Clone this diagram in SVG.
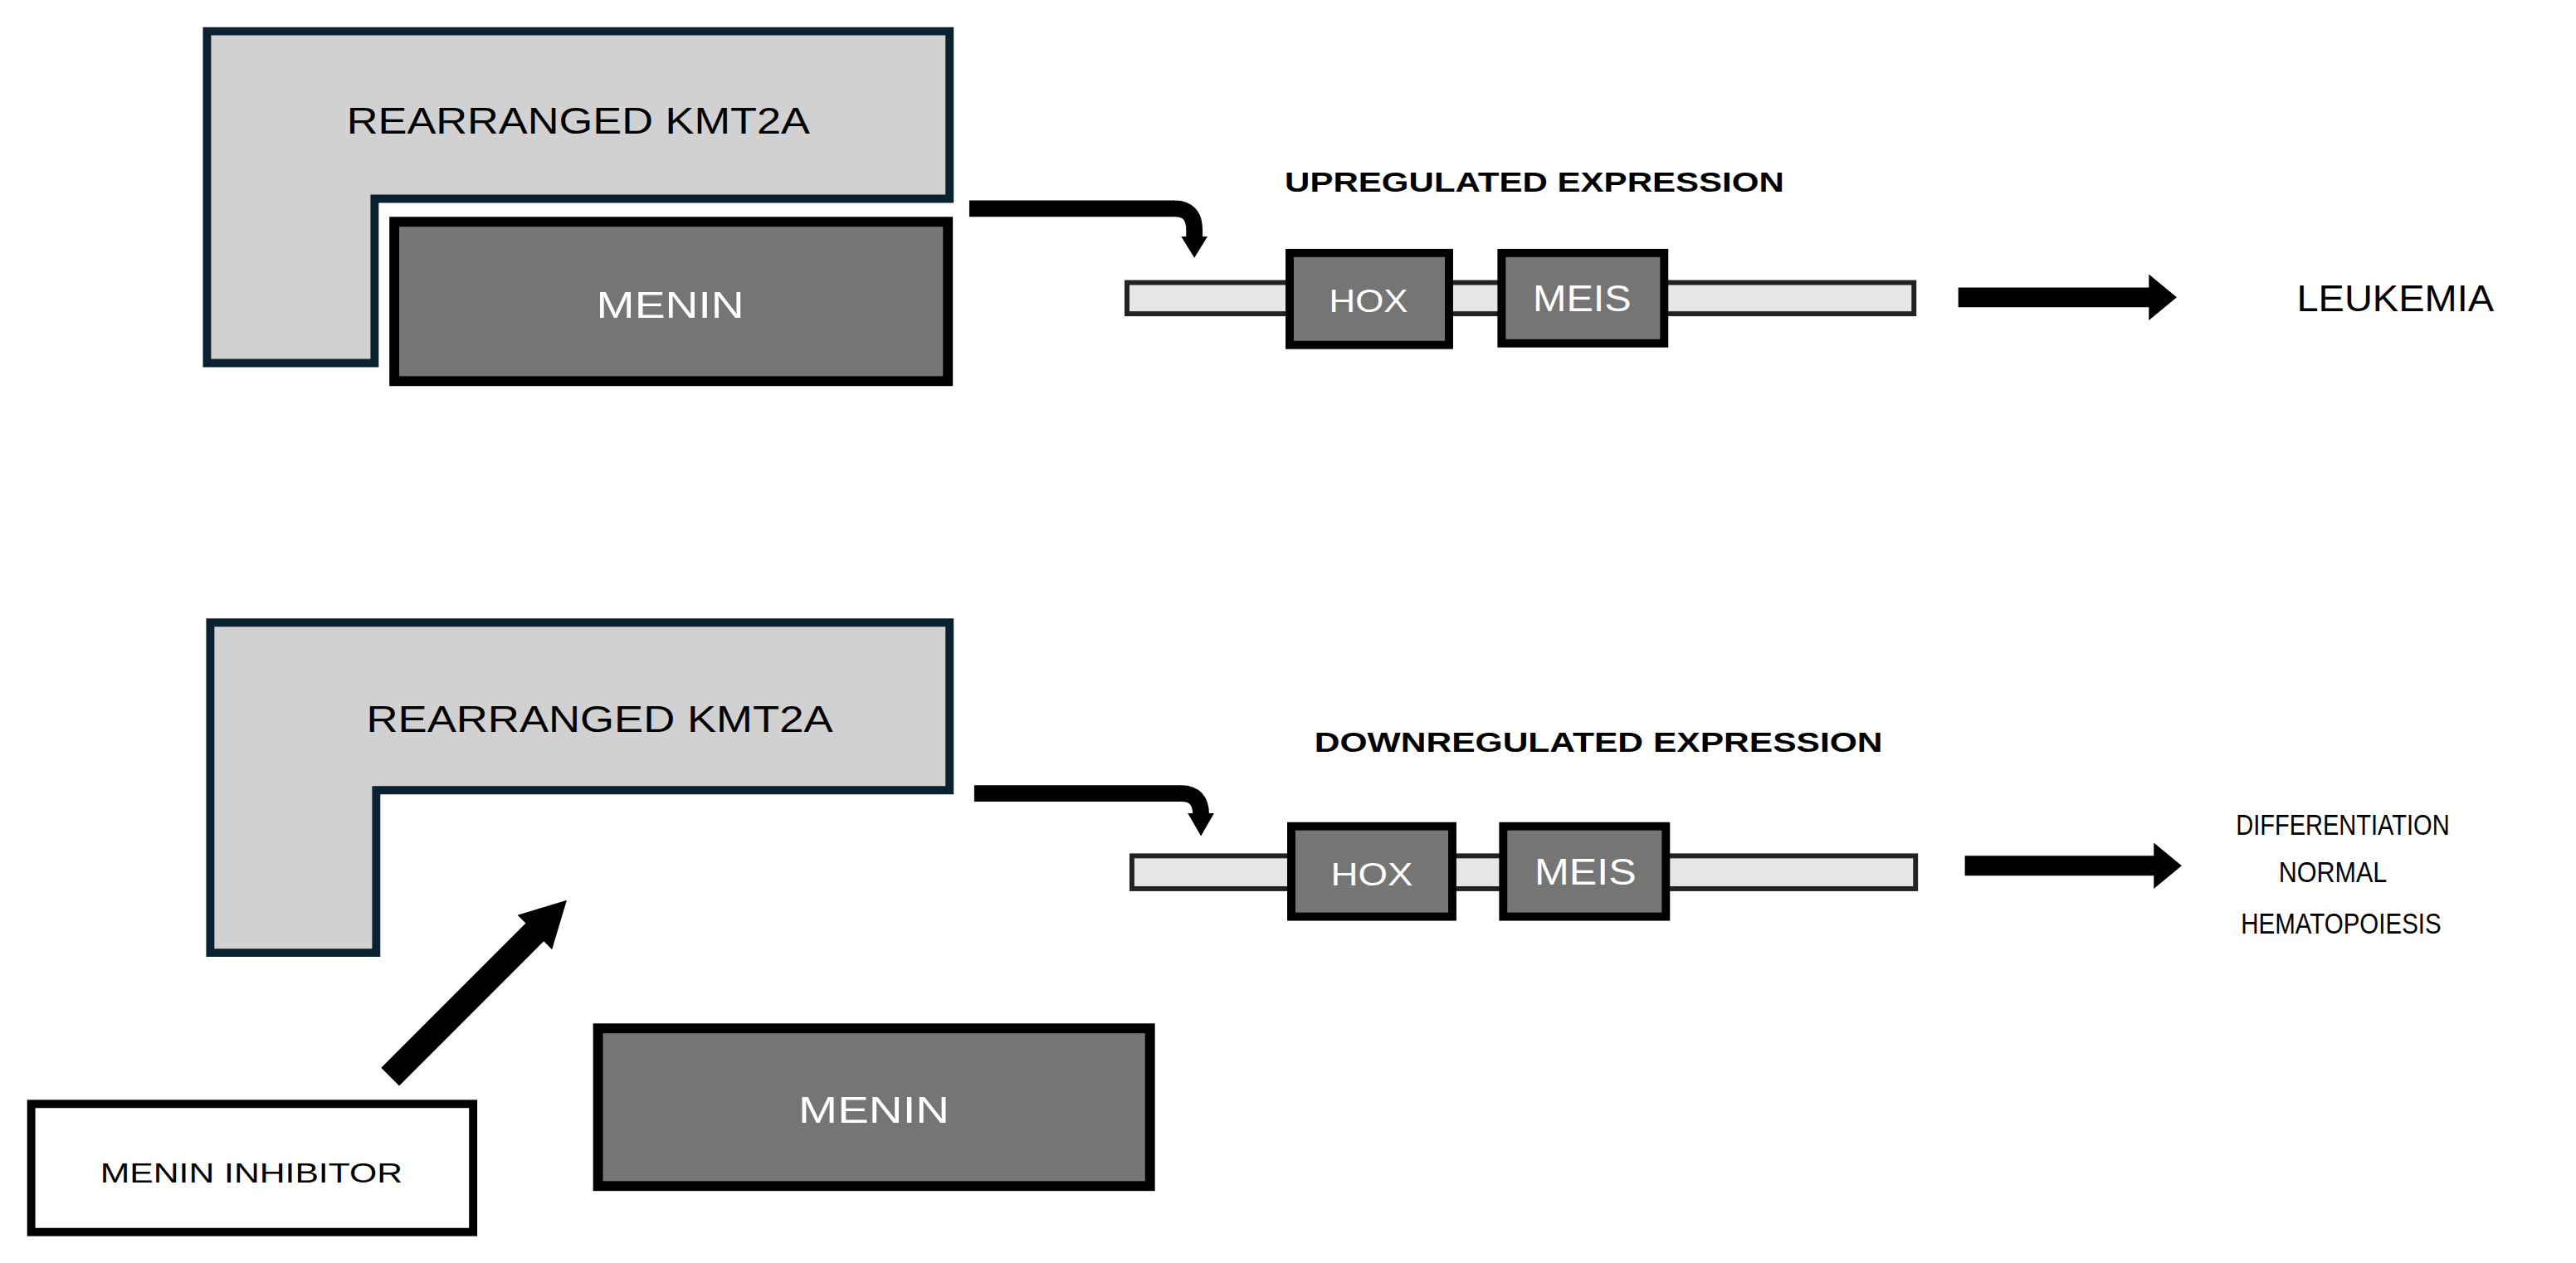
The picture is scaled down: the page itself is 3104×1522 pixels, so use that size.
<svg xmlns="http://www.w3.org/2000/svg" width="3104" height="1522" viewBox="0 0 3104 1522">
<style>
.kmt{fill:#d1d1d1;stroke:#0a2230;stroke-width:5}
.men{fill:#757575;stroke:#000;stroke-width:6}
.gene{fill:#757575;stroke:#000;stroke-width:5}
.bar{fill:#e6e6e6;stroke:#222;stroke-width:3}
.t{font-family:"Liberation Sans",Arial,sans-serif;text-anchor:middle;dominant-baseline:central}
.w{fill:#fff}
.b{font-weight:bold}
.arr{fill:#000;stroke:none}
</style>
<defs>
<marker id="ah" markerWidth="3" markerHeight="3" refX="1.5" refY="1.5" orient="auto" markerUnits="strokeWidth"><path d="M0,0 L1.5,1.5 L0,3 Z" fill="#000"/></marker>
</defs>
<rect width="3104" height="1522" fill="#fff"/>
<g transform="scale(1.9796)">
<g id="kmt2a-top"><path class="kmt" d="M126,19 H578 V121 H228 V221 H126 Z"/><text class="t" x="352" y="74" font-size="22" textLength="282" lengthAdjust="spacingAndGlyphs">REARRANGED KMT2A</text></g>
<g id="menin-top"><rect class="men" x="240" y="135" width="337" height="97"/><text class="t w" x="408" y="186" font-size="22" textLength="90" lengthAdjust="spacingAndGlyphs">MENIN</text></g>
<g id="gene-top"><rect class="bar" x="686" y="172" width="479" height="19"/>
<rect class="gene" x="785" y="154" width="97" height="56"/><text class="t w" x="833" y="183" font-size="20" textLength="48" lengthAdjust="spacingAndGlyphs">HOX</text>
<rect class="gene" x="914" y="154" width="99" height="55"/><text class="t w" x="963" y="182" font-size="22" textLength="60" lengthAdjust="spacingAndGlyphs">MEIS</text></g>
<text id="up-label" class="t b" x="934" y="111" font-size="17" textLength="304" lengthAdjust="spacingAndGlyphs">UPREGULATED EXPRESSION</text>
<g id="leukemia"><text class="t" x="1458" y="182" font-size="22" textLength="120" lengthAdjust="spacingAndGlyphs">LEUKEMIA</text></g>
<g id="kmt2a-bottom"><path class="kmt" d="M128,379 H578 V481 H229 V580 H128 Z"/><text class="t" x="365" y="438" font-size="22" textLength="284" lengthAdjust="spacingAndGlyphs">REARRANGED KMT2A</text></g>
<g id="menin-bottom"><rect class="men" x="364" y="626" width="336" height="96"/><text class="t w" x="532" y="676" font-size="22" textLength="92" lengthAdjust="spacingAndGlyphs">MENIN</text></g>
<g id="inhibitor"><rect x="19" y="672" width="269" height="78" fill="#fff" stroke="#000" stroke-width="5"/><text class="t" x="153" y="714" font-size="17" textLength="184" lengthAdjust="spacingAndGlyphs">MENIN INHIBITOR</text></g>
<g id="gene-bottom"><rect class="bar" x="689" y="521" width="477" height="20"/>
<rect class="gene" x="786" y="503" width="98" height="55"/><text class="t w" x="835" y="532" font-size="20" textLength="50" lengthAdjust="spacingAndGlyphs">HOX</text>
<rect class="gene" x="915" y="503" width="99" height="55"/><text class="t w" x="965" y="531" font-size="22" textLength="62" lengthAdjust="spacingAndGlyphs">MEIS</text></g>
<text id="down-label" class="t b" x="973" y="452" font-size="17" textLength="346" lengthAdjust="spacingAndGlyphs">DOWNREGULATED EXPRESSION</text>
<g id="outcome"><text class="t" x="1426" y="502" font-size="18" textLength="130" lengthAdjust="spacingAndGlyphs">DIFFERENTIATION</text><text class="t" x="1420" y="531" font-size="18" textLength="66" lengthAdjust="spacingAndGlyphs">NORMAL</text><text class="t" x="1425" y="562" font-size="18" textLength="122" lengthAdjust="spacingAndGlyphs">HEMATOPOIESIS</text></g>
<g id="connectors">
<path d="M590,127 H715 Q727,127 727,140 V145" fill="none" stroke="#000" stroke-width="10"/><path class="arr" d="M719,144 H735 L727,157 Z"/>
<path d="M593,483 H719 Q731,483 731,496 V496" fill="none" stroke="#000" stroke-width="10"/><path class="arr" d="M723,495 H739 L731,509 Z"/>
<path class="arr" d="M1192,175 H1308 V167 L1325,181 L1308,195 V187 H1192 Z" fill="#05141c"/>
<path class="arr" d="M1196,521 H1311 V513 L1328,527 L1311,541 V533 H1196 Z"/>
<path class="arr" d="M232,650 L320,562 L315,557 L345,548 L336,578 L331,573 L243,661 Z"/>
</g>
</g>
</svg>
